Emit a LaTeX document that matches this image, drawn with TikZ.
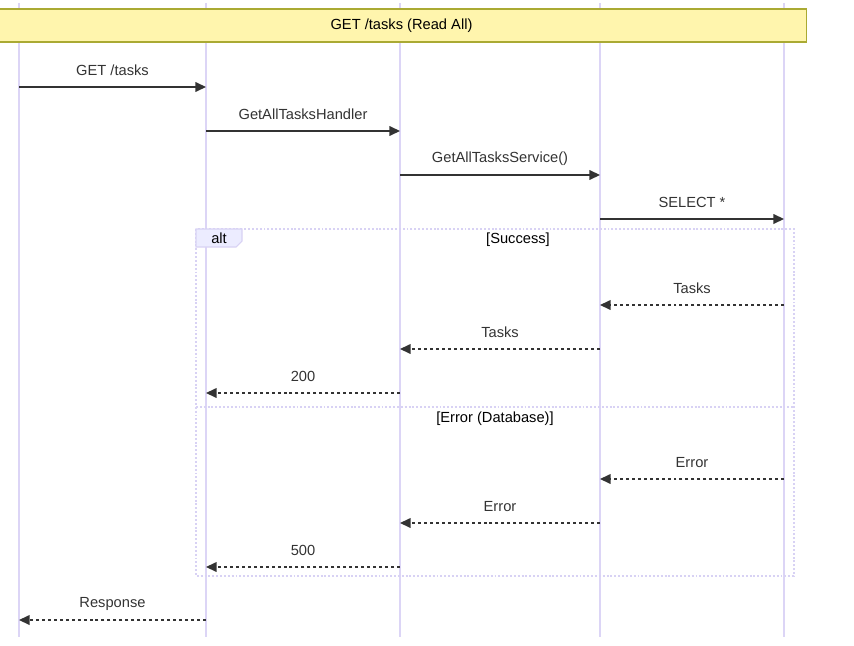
\documentclass[tikz,border=0pt]{standalone}
\usepackage{fontspec}
\setmainfont{Liberation Sans}
\usetikzlibrary{arrows.meta}
\definecolor{ink}{HTML}{333333}
\definecolor{lifeline}{HTML}{DCD5F6}
\definecolor{notefill}{HTML}{FFF5AD}
\definecolor{noteline}{HTML}{AAAA33}
\definecolor{altline}{HTML}{D8D2F4}
\definecolor{tabfill}{HTML}{ECECFF}
\tikzstyle{life}=[draw=lifeline, line width=1pt]
\tikzstyle{msg}=[draw=ink, line width=0.75pt, -{Triangle[length=6pt,width=5.5pt]}]
\tikzstyle{reply}=[msg, dash pattern=on 1.7pt off 1.7pt]
\tikzstyle{lbl}=[text=ink, font=\fontsize{8.35}{10}\selectfont, inner sep=0pt, yshift=0.33cm]
\tikzstyle{guard}=[text=black, font=\fontsize{8.35}{10}\selectfont, inner sep=0pt]
\tikzstyle{altbox}=[draw=altline, line width=0.9pt, dash pattern=on 1.1pt off 1.1pt]

\begin{document}
\begin{tikzpicture}[x=0.02cm, y=-0.02cm]
\useasboundingbox (0,0) rectangle (854,645);
% lifelines
\foreach \n/\x in {1/19,2/206,3/400,4/600,5/784}{
	\coordinate (top\n) at (\x,3);
	\coordinate (bot\n) at (\x,637);
	\draw[life] (top\n) -- (bot\n);
}
% message rows
\foreach \r/\y in {1/87,2/131,3/175,4/219,5/305,6/349,7/393,8/479,9/523,10/567,11/620}
	\coordinate (row\r) at (0,\y);
% note
\node[fill=notefill, draw=noteline, line width=0.6pt, minimum width=16.22cm, minimum height=0.66cm,
	text=black, font=\fontsize{8.35}{10}\selectfont] (title) at (401.5,25.5) {GET /tasks (Read All)};
% alt frame
\draw[altbox] (196,229) rectangle (794,576);
\draw[altbox] (196,407) -- (794,407);
\draw[fill=tabfill, draw=altline, line width=0.6pt] (196,229) -- (242,229) -- (242,241) -- (236,247) -- (196,247) -- cycle;
\node[guard] (altlbl) at (219,238) {alt};
\node[guard] (okguard) at (518,240) {[Success]};
\node[guard] (errguard) at (495,419) {[Error (Database)]};
% calls
\draw[msg] (top1 |- row1) -- node[lbl] (m1) {GET /tasks} (top2 |- row1);
\draw[msg] (top2 |- row2) -- node[lbl] (m2) {GetAllTasksHandler} (top3 |- row2);
\draw[msg] (top3 |- row3) -- node[lbl] (m3) {GetAllTasksService()} (top4 |- row3);
\draw[msg] (top4 |- row4) -- node[lbl] (m4) {SELECT *} (top5 |- row4);
% success
\draw[reply] (top5 |- row5) -- node[lbl] (m5) {Tasks} (top4 |- row5);
\draw[reply] (top4 |- row6) -- node[lbl] (m6) {Tasks} (top3 |- row6);
\draw[reply] (top3 |- row7) -- node[lbl] (m7) {200} (top2 |- row7);
% error
\draw[reply] (top5 |- row8) -- node[lbl] (m8) {Error} (top4 |- row8);
\draw[reply] (top4 |- row9) -- node[lbl] (m9) {Error} (top3 |- row9);
\draw[reply] (top3 |- row10) -- node[lbl] (m10) {500} (top2 |- row10);
\draw[reply] (top2 |- row11) -- node[lbl] (m11) {Response} (top1 |- row11);
\end{tikzpicture}
\end{document}
